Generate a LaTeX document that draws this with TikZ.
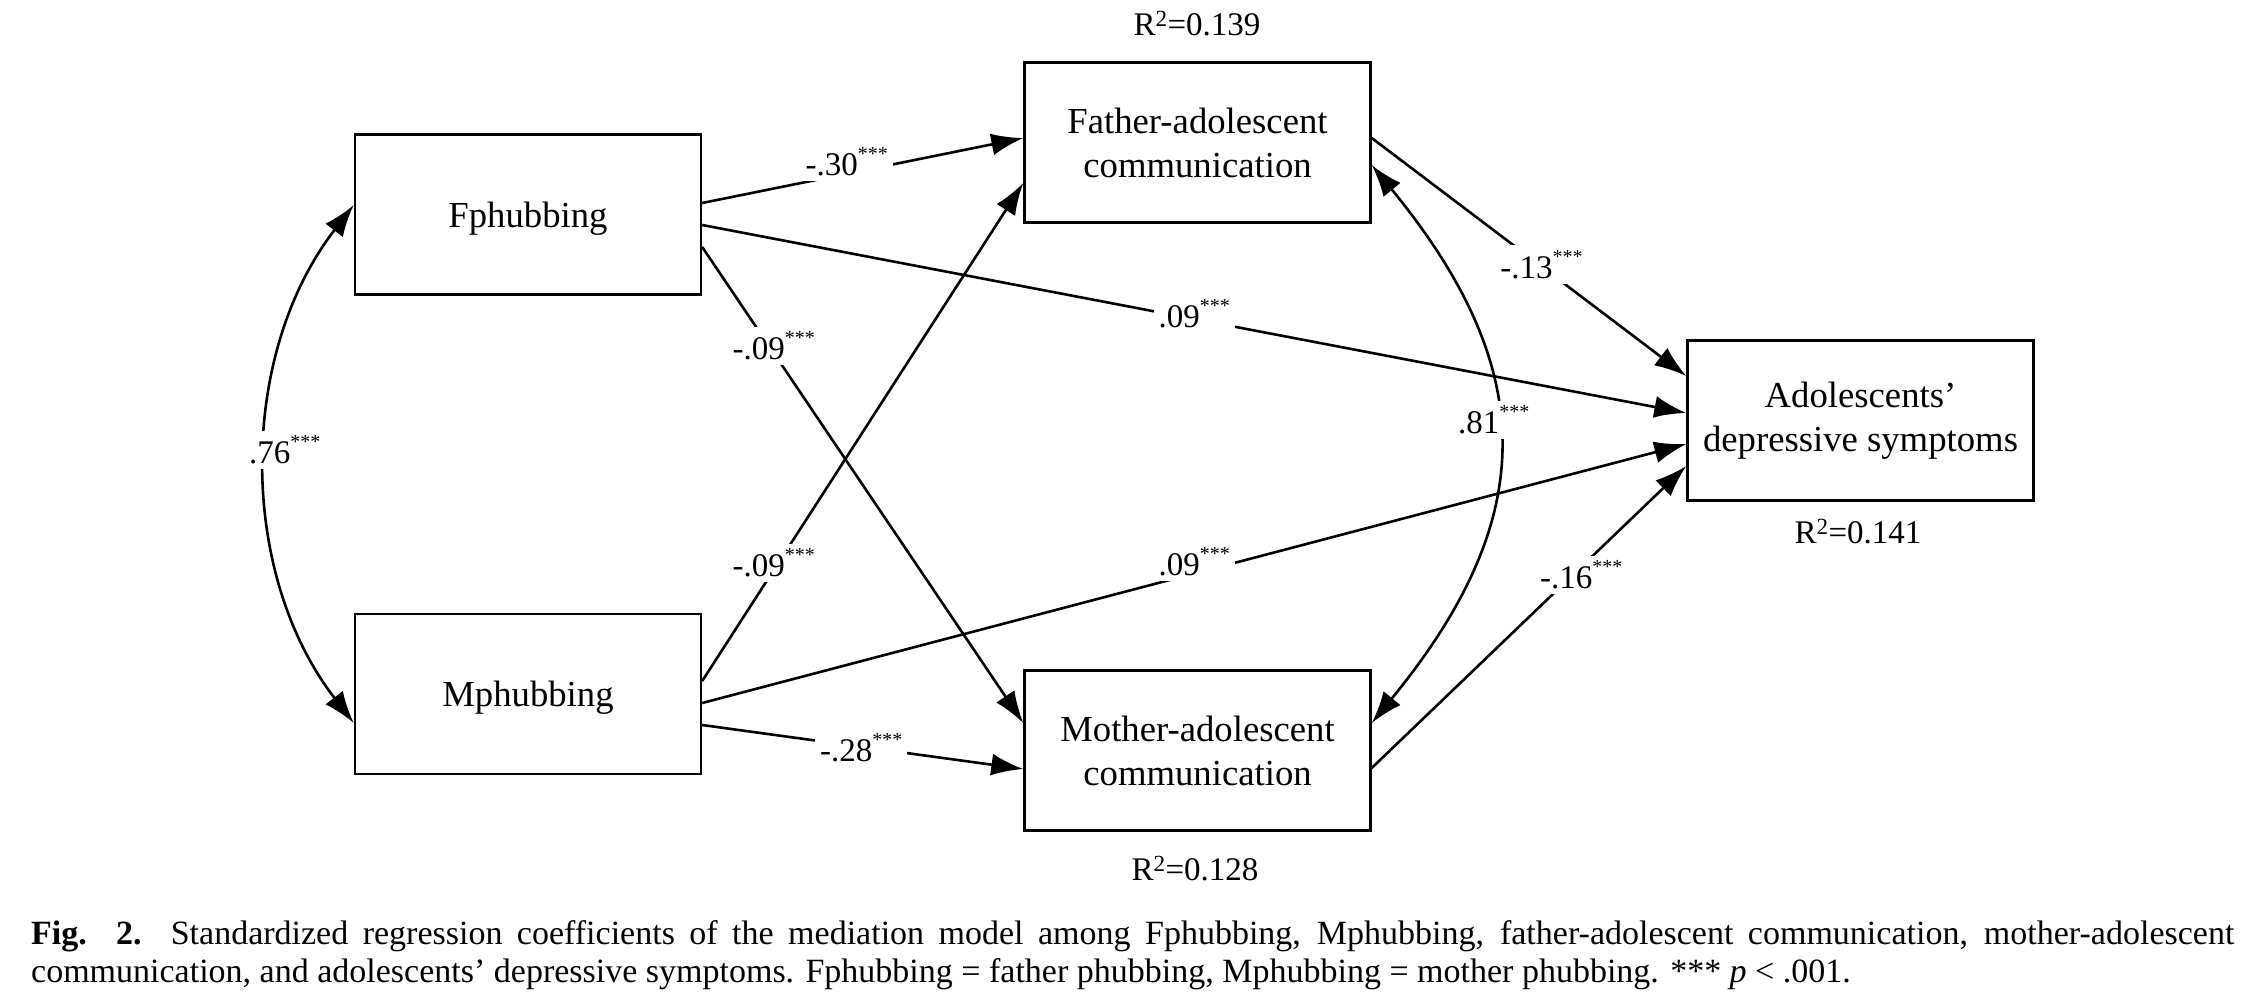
\documentclass[tikz,border=0pt]{standalone}
\usepackage{fontspec}
\setmainfont{Liberation Serif}
\usetikzlibrary{arrows.meta}
\newcommand\boxfont{\fontsize{36.7}{44}\selectfont}
\newcommand\labfont{\fontsize{33}{40}\selectfont}
\newcommand\capfont{\fontsize{34}{38}\selectfont}
\newcommand\sig{\raisebox{15pt}{\fontsize{20}{20}\selectfont ***}}
\newcommand\lowertext[1]{\raisebox{-4pt}[\height][\depth]{#1}}
\begin{document}
\begin{tikzpicture}[x=1pt,y=-1pt,
  var/.style={draw, line width=2.4pt, minimum width=346pt, minimum height=160pt, inner sep=0pt, align=center, font=\boxfont},
  conn/.style={line width=2.6pt, -{Latex[length=32pt,width=22pt]}},
  biconn/.style={line width=2.6pt, {Latex[length=32pt,width=22pt]}-{Latex[length=32pt,width=22pt]}},
  lab/.style={fill=white, inner sep=5pt, font=\labfont},
  rsq/.style={font=\labfont, inner sep=0pt}]
\useasboundingbox (0,0) rectangle (2245,1002);
\fill[white] (0,0) rectangle (2245,1002);

\node[var] (F)  at (528,214.5)    {\lowertext{Fphubbing}};
\node[var] (M)  at (528,694)      {\lowertext{Mphubbing}};
\node[var] (Fa) at (1197.5,142.5) {Father-adolescent\\communication};
\node[var] (Mo) at (1197.5,750.5) {Mother-adolescent\\communication};
\node[var] (A)  at (1860.5,420.5) {Adolescents’\\depressive symptoms};

\node[rsq] (r1) at (1197,24)  {R\textsuperscript{2}=0.139};
\node[rsq] (r2) at (1195,869) {R\textsuperscript{2}=0.128};
\node[rsq] (r3) at (1858,532) {R\textsuperscript{2}=0.141};

\draw[conn] ([yshift=11.5pt]F.east) -- node[lab,pos=0.45,yshift=12pt]{-.30\sig} ([yshift=4.5pt]Fa.west);
\draw[conn] ([yshift=-10.5pt]F.east) -- node[lab,pos=0.5,yshift=5pt]{.09\sig} ([yshift=7.5pt]A.west);
\draw[conn] ([yshift=-32.5pt]F.east) -- node[lab,pos=0.223,yshift=7pt]{-.09\sig} ([yshift=27.5pt]Mo.west);
\draw[conn] ([yshift=13pt]M.east) -- node[lab,pos=0.223,yshift=7pt]{-.09\sig} ([yshift=-40.5pt]Fa.west);
\draw[conn] ([yshift=-9pt]M.east) -- node[lab,pos=0.5,yshift=12pt]{.09\sig} ([yshift=-23.5pt]A.west);
\draw[conn] ([yshift=-31pt]M.east) -- node[lab,pos=0.495,yshift=-1pt]{-.28\sig} ([yshift=-18.5pt]Mo.west);
\draw[conn] ([yshift=4.5pt]Fa.east) -- node[lab,pos=0.54,yshift=2pt]{-.13\sig} ([yshift=44.5pt]A.west);
\draw[conn] ([yshift=-17.5pt]Mo.east) -- node[lab,pos=0.666,yshift=-8pt]{-.16\sig} ([yshift=-45.5pt]A.west);

\draw[biconn] ([yshift=9.5pt]F.west) .. controls +(-116,150) and +(-116,-150) .. node[lab,pos=0.5,xshift=18pt,yshift=14pt]{.76\sig} ([yshift=-29pt]M.west);
\draw[biconn] ([yshift=-22.5pt]Fa.east) .. controls +(168,205) and +(168,-205) .. node[lab,pos=0.5,xshift=-4pt,yshift=24pt]{.81\sig} ([yshift=27.5pt]Mo.east);

\node[anchor=base west, font=\capfont, inner sep=0pt] (cap1) at (31,944) {\makebox[2203pt][s]{\textbf{Fig. 2.} Standardized regression coefficients of the mediation model among Fphubbing, Mphubbing, father-adolescent communication, mother-adolescent}};
\node[anchor=base west, font=\capfont, inner sep=0pt] (cap2) at (31,982) {communication, and adolescents’ depressive symptoms. Fphubbing = father phubbing, Mphubbing = mother phubbing. *** \textit{p} < .001.};
\end{tikzpicture}
\end{document}
